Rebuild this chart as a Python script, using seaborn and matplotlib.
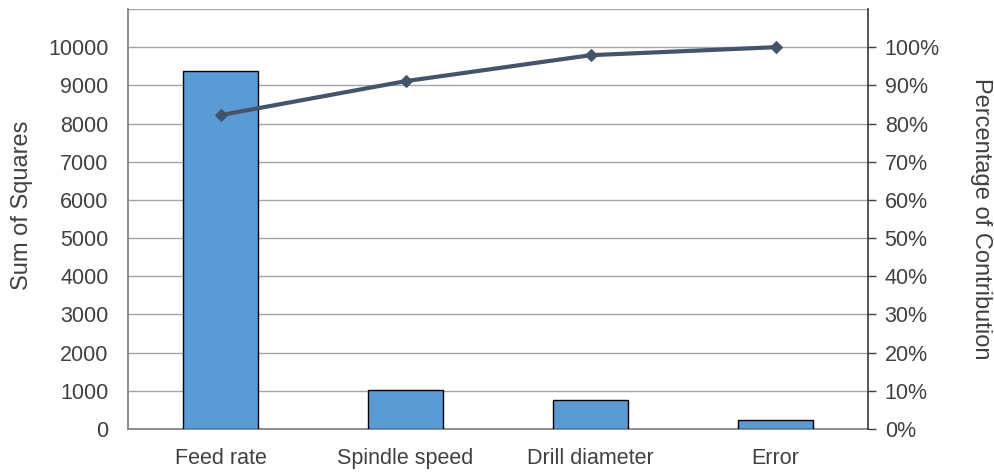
import matplotlib
matplotlib.use("Agg")
import matplotlib.pyplot as plt
import seaborn as sns
import pandas as pd
import numpy as np

categories = ["Feed rate", "Spindle speed", "Drill diameter", "Error"]
sum_of_squares = [9370, 1020, 760, 235]
cumulative_pct = [82.2, 91.1, 97.9, 100.0]
left_ticks = list(range(0, 10001, 1000))
right_ticks = list(range(0, 101, 10))

sns.set_theme(style="white")
plt.rcParams["font.family"] = ["Liberation Sans", "DejaVu Sans"]
text_color = "#404040"

df = pd.DataFrame({"cat": categories, "ss": sum_of_squares, "pct": cumulative_pct})

fig = plt.figure(figsize=(9.94, 4.74), dpi=100)
ax = fig.add_axes([128/994, 1-429/474, 740/994, 420/474])

sns.barplot(data=df, x="cat", y="ss", ax=ax, color="#5B9BD5", saturation=1,
            width=0.41, edgecolor="black", linewidth=1.0, zorder=3)
ax.set_xlim(-0.5, 3.5)
ax.set_ylim(0, 11000)
ax.set_yticks(left_ticks)
ax.set_yticklabels([str(t) for t in left_ticks])
for t in left_ticks[1:] + [11000]:
    ax.axhline(t, color="#A6A6A6", lw=1.0, zorder=1)
ax.set_xlabel("")
ax.set_ylabel("Sum of Squares", fontsize=17, color=text_color)
ax.yaxis.set_label_coords(-0.128, 0.533)
ax.tick_params(axis="y", labelsize=15.5, colors=text_color, length=0, pad=14)
ax.tick_params(axis="x", labelsize=15.5, colors=text_color, length=0, pad=14)
ax.spines["top"].set_visible(False)
ax.spines["left"].set_color("#808080")
ax.spines["bottom"].set_color("#808080")
ax.spines["right"].set_visible(False)

ax2 = ax.twinx()
sns.lineplot(data=df, x="cat", y="pct", ax=ax2, color="#44546A", lw=3,
             marker="D", markersize=6, markeredgecolor="#44546A", sort=False, zorder=4)
ax2.set_ylim(0, 110)
ax2.set_yticks(right_ticks)
ax2.set_yticklabels([f"{t}%" for t in right_ticks])
ax2.tick_params(axis="y", labelsize=15.5, colors=text_color, length=6, width=1,
                direction="out", pad=6)
ax2.yaxis.set_tick_params(color="#404040")
ax2.set_ylabel("Percentage of Contribution", fontsize=17, color=text_color,
               rotation=-90, va="center")
ax2.yaxis.set_label_coords(1.153, 0.5)
for s in ["top", "left", "bottom"]:
    ax2.spines[s].set_visible(False)
ax2.spines["right"].set_color("#404040")
ax2.grid(False)
ax2.set_xlim(-0.5, 3.5)

fig.savefig("out.png", dpi=100)
